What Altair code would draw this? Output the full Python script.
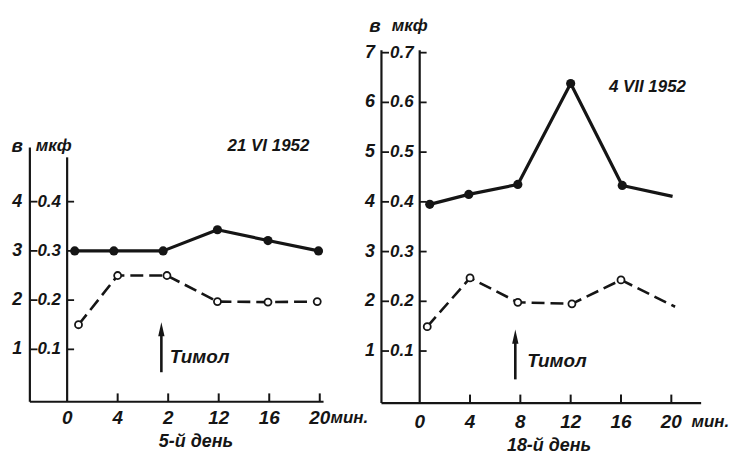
import altair as alt
import pandas as pd

# ---------------- values ----------------
# minute ticks on the time axis (labels as printed)
MINUTE_TICKS = [4, 8, 12, 16, 20]
MINUTE_LABEL_AT = [0, 4, 8, 12, 16, 20]
MINUTE_LABELS_A = ["0", "4", "2", "12", "16", "20"]
MINUTE_LABELS_B = ["0", "4", "8", "12", "16", "20"]

# capacitance ticks (inner scale) and the companion outer scale
CAP_TICKS_A = [0.1, 0.2, 0.3, 0.4]
CAP_INNER_A = ["0.1", "0.2", "0.3", "0.4"]
CAP_OUTER_A = ["1", "2", "3", "4"]
CAP_TICKS_B = [0.1, 0.2, 0.3, 0.4, 0.5, 0.6, 0.7]
CAP_INNER_B = ["0.1", "0.2", "0.3", "0.4", "0.5", "0.6", "0.7"]
CAP_OUTER_B = ["1", "2", "3", "4", "5", "6", "7"]

# 21 VI 1952, day 5
A_SOLID_T = [0.6, 3.7, 7.6, 11.9, 15.9, 19.9]
A_SOLID_V = [0.300, 0.300, 0.300, 0.343, 0.321, 0.300]
A_OPEN_T = [0.9, 4.0, 7.9, 11.9, 15.9, 19.8]
A_OPEN_V = [0.150, 0.250, 0.250, 0.197, 0.196, 0.197]

# 4 VII 1952, day 18 (last value of each series has no marker)
B_SOLID_T = [0.8, 3.9, 7.8, 12.0, 16.1, 20.1]
B_SOLID_V = [0.395, 0.415, 0.435, 0.638, 0.433, 0.411]
B_SOLID_MARK = [True, True, True, True, True, False]
B_OPEN_T = [0.6, 4.0, 7.8, 12.1, 16.0, 20.3]
B_OPEN_V = [0.149, 0.247, 0.198, 0.195, 0.243, 0.189]
B_OPEN_MARK = [True, True, True, True, True, False]

INK = "#151515"
FONT = "Liberation Sans"

PANELS = [
    dict(
        width=360, xdom=[-5.315, 23.03], ydom=[-0.1202, 0.8071],
        base=-0.0065, t_out=-2.95, t_end=20.3, top_out=0.51, top_in=0.49,
        ticks=CAP_TICKS_A, inner=CAP_INNER_A, outer=CAP_OUTER_A,
        t_outlab=-3.95, t_inlab=-1.42,
        head=[(-3.95, "в", 19), (-1.06, "мкф", 17)], head_v=0.514,
        xlabels=MINUTE_LABELS_A, xlab_v=-0.040, unit_t=20.85,
        day="5-й день", day_t=10.2, day_v=-0.088,
        title="21 VI 1952", title_t=15.94, title_v=0.514,
        arrow_t=7.46, shaft=(0.0535, 0.132), head_at=0.141,
        thymol_t=8.13, thymol_v=0.084,
        solid=(A_SOLID_T, A_SOLID_V, [True] * 6),
        dashed=(A_OPEN_T, A_OPEN_V, [True] * 6),
    ),
    dict(
        width=370, xdom=[-4.901, 24.348], ydom=[-0.1146, 0.8034],
        base=-0.0046, t_out=-3.04, t_end=22.37, top_out=0.705, top_in=0.705,
        ticks=CAP_TICKS_B, inner=CAP_INNER_B, outer=CAP_OUTER_B,
        t_outlab=-3.95, t_inlab=-1.42,
        head=[(-3.56, "в", 19), (-0.79, "мкф", 17)], head_v=0.753,
        xlabels=MINUTE_LABELS_B, xlab_v=-0.0430, unit_t=21.6,
        day="18-й день", day_t=10.28, day_v=-0.0906,
        title="4 VII 1952", title_t=18.1, title_v=0.63,
        arrow_t=7.6, shaft=(0.043, 0.121), head_at=0.129,
        thymol_t=8.54, thymol_v=0.079,
        solid=(B_SOLID_T, B_SOLID_V, B_SOLID_MARK),
        dashed=(B_OPEN_T, B_OPEN_V, B_OPEN_MARK),
    ),
]


def panel(p):
    xs = alt.Scale(domain=p["xdom"], nice=False, zero=False)
    ys = alt.Scale(domain=p["ydom"], nice=False, zero=False)

    def X(f="t"):
        return alt.X(f"{f}:Q", scale=xs, axis=None)

    def Y(f="v"):
        return alt.Y(f"{f}:Q", scale=ys, axis=None)

    def text_layer(df, size, align="center", baseline="middle"):
        return alt.Chart(df).mark_text(
            font=FONT, fontStyle="italic", fontWeight="bold", fontSize=size,
            color=INK, align=align, baseline=baseline,
        ).encode(x=X(), y=Y(), text="label:N")

    base = p["base"]
    # axis frame: outer and inner vertical scales, time axis
    frame = pd.DataFrame({
        "t": [p["t_out"], 0, p["t_out"]],
        "t2": [p["t_out"], 0, p["t_end"]],
        "v": [base, base, base],
        "v2": [p["top_out"], p["top_in"], base],
    })
    frame_layer = alt.Chart(frame).mark_rule(color=INK, strokeWidth=2.2).encode(
        x=X(), x2="t2:Q", y=Y(), y2="v2:Q")

    xt = pd.DataFrame({"t": MINUTE_TICKS, "v": [base] * 5,
                       "v2": [base + 0.017] * 5})
    xtick_layer = alt.Chart(xt).mark_rule(color=INK, strokeWidth=2).encode(
        x=X(), y=Y(), y2="v2:Q")

    n = len(p["ticks"])
    yt = pd.DataFrame({
        "t": [p["t_out"]] * n + [0] * n,
        "t2": [p["t_out"] + 0.6] * n + [0.55] * n,
        "v": p["ticks"] * 2,
    })
    ytick_layer = alt.Chart(yt).mark_rule(color=INK, strokeWidth=1.8).encode(
        x=X(), x2="t2:Q", y=Y())

    outer_lab = text_layer(pd.DataFrame({
        "t": [p["t_outlab"]] * n, "v": p["ticks"], "label": p["outer"]}), 18)
    inner_lab = text_layer(pd.DataFrame({
        "t": [p["t_inlab"]] * n, "v": p["ticks"], "label": p["inner"]}), 17)
    head_layers = [
        text_layer(pd.DataFrame({"t": [h[0]], "v": [p["head_v"]],
                                 "label": [h[1]]}), h[2])
        for h in p["head"]
    ]

    x_lab = text_layer(pd.DataFrame({
        "t": MINUTE_LABEL_AT, "v": [p["xlab_v"]] * 6,
        "label": p["xlabels"]}), 19)
    unit_lab = text_layer(pd.DataFrame({
        "t": [p["unit_t"]], "v": [p["xlab_v"]], "label": ["мин."]}), 17,
        align="left")
    day_lab = text_layer(pd.DataFrame({
        "t": [p["day_t"]], "v": [p["day_v"]], "label": [p["day"]]}), 18)
    title_lab = text_layer(pd.DataFrame({
        "t": [p["title_t"]], "v": [p["title_v"]], "label": [p["title"]]}), 17)
    thymol_lab = text_layer(pd.DataFrame({
        "t": [p["thymol_t"]], "v": [p["thymol_v"]], "label": ["Тимол"]}), 19,
        align="left")

    shaft = alt.Chart(pd.DataFrame({
        "t": [p["arrow_t"]], "v": [p["shaft"][0]], "v2": [p["shaft"][1]]})
    ).mark_rule(color=INK, strokeWidth=2.6).encode(x=X(), y=Y(), y2="v2:Q")
    arrow_head = alt.Chart(pd.DataFrame({
        "t": [p["arrow_t"]], "v": [p["head_at"]]})
    ).mark_point(shape="M-0.45,1L0,-1L0.45,1Z", filled=True, size=200,
                 color=INK, opacity=1).encode(x=X(), y=Y())

    st, sv, sm = p["solid"]
    solid = pd.DataFrame({"t": st, "v": sv, "m": sm})
    dt, dv, dm = p["dashed"]
    dashed = pd.DataFrame({"t": dt, "v": dv, "m": dm})

    solid_line = alt.Chart(solid).mark_line(
        color=INK, strokeWidth=3.2, strokeJoin="round").encode(x=X(), y=Y())
    solid_pts = alt.Chart(solid).transform_filter("datum.m").mark_point(
        shape="circle", filled=True, size=85, color=INK, opacity=1
    ).encode(x=X(), y=Y())
    dashed_line = alt.Chart(dashed).mark_line(
        color=INK, strokeWidth=2.6, strokeDash=[13, 6]).encode(x=X(), y=Y())
    open_pts = alt.Chart(dashed).transform_filter("datum.m").mark_point(
        shape="circle", size=50, fill="white", stroke=INK, strokeWidth=1.8,
        opacity=1, fillOpacity=1
    ).encode(x=X(), y=Y())

    return alt.layer(
        frame_layer, xtick_layer, ytick_layer,
        outer_lab, inner_lab, *head_layers, x_lab, unit_lab, day_lab,
        title_lab, shaft, arrow_head, thymol_lab,
        solid_line, dashed_line, solid_pts, open_pts,
    ).properties(width=p["width"], height=459)


chart = alt.hconcat(
    *[panel(p) for p in PANELS], spacing=0, bounds="flush"
).properties(
    padding=0, background="white"
).configure_view(stroke=None)

chart.save("out.html", embed_options={"renderer": "svg", "actions": False})
